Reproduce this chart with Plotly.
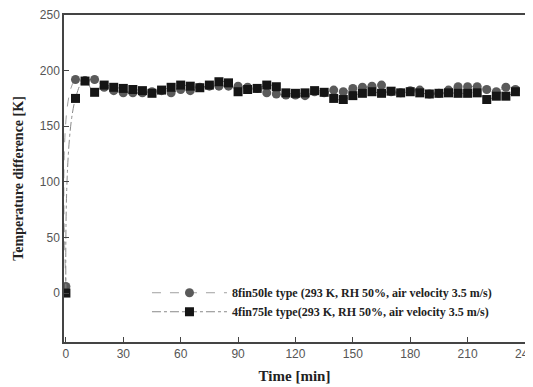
import plotly.graph_objects as go

time_min = [0, 5, 10, 15, 20, 25, 30, 35, 40, 45, 50, 55, 60, 65, 70, 75, 80, 85, 90, 95,
            100, 105, 110, 115, 120, 125, 130, 135, 140, 145, 150, 155, 160, 165, 170, 175,
            180, 185, 190, 195, 200, 205, 210, 215, 220, 225, 230, 235]

fin8_50le = [6, 192, 191, 192, 185, 182, 180, 180, 180, 181, 182, 180, 183, 182, 185, 186, 186, 186,
             186, 185, 184, 180, 179, 178, 178, 177.5, 181, 180, 182.5, 181, 184, 185, 186, 187,
             181, 180, 182, 182.5, 179, 179.6, 182.5, 185.5, 185.5, 185.5, 183, 181, 185, 183]

fin4_75le = [0, 175, 190.6, 180.5, 187, 185, 184, 183, 182, 179.6, 182.5, 185, 187, 186, 184.6, 187,
             190, 189, 181, 183, 184, 187, 185.5, 180, 179.6, 180, 182, 180.5, 175, 174, 177.5,
             179.6, 181, 179.6, 181.5, 180, 181, 180, 179, 179.6, 180, 179.6, 179.6, 180, 174,
             177, 177, 181]

x_ticks = [0, 30, 60, 90, 120, 150, 180, 210, 240]
y_ticks = [0, 50, 100, 150, 200, 250]

label1 = "8fin50le type (293 K, RH 50%, air velocity 3.5 m/s)"
label2 = "4fin75le type(293 K, RH 50%, air velocity 3.5 m/s)"

fig = go.Figure()
fig.add_trace(go.Scatter(
    x=time_min, y=fin8_50le, name=label1, mode="lines+markers",
    line=dict(color="#a0a0a0", width=1, dash="dash", shape="spline", smoothing=1.3),
    marker=dict(symbol="circle", size=9, color="#5a5a5a"),
))
fig.add_trace(go.Scatter(
    x=time_min, y=fin4_75le, name=label2, mode="lines+markers",
    line=dict(color="#8a8a8a", width=1, dash="dashdot", shape="spline", smoothing=1.3),
    marker=dict(symbol="square", size=9, color="#151515"),
))

# page body has an 8px margin, so the figure is sized to fill the rest of the window
fig.update_layout(
    width=525, height=379,
    margin=dict(l=56, r=8, t=7, b=45),
    paper_bgcolor="white", plot_bgcolor="white",
    showlegend=True,
    legend=dict(x=0.18, y=0.195, xanchor="left", yanchor="top",
                bgcolor="rgba(0,0,0,0)", itemwidth=75, tracegroupgap=0,
                font=dict(family="Liberation Serif", size=12, color="#222", weight="bold"),
                itemsizing="trace"),
    font=dict(family="Liberation Sans", color="#555"),
)
fig.update_xaxes(
    range=[-1, 240], tickvals=x_ticks, ticks="inside", ticklen=5, tickcolor="#444",
    showline=True, linecolor="#444", linewidth=1.5, mirror=True, showgrid=False, zeroline=False,
    automargin=False, ticklabeloverflow="allow",
    tickfont=dict(family="Liberation Sans", size=12, color="#555"),
    title=dict(text="<b>Time [min]</b>", font=dict(family="Liberation Serif", size=15, color="#222"), standoff=10),
)
fig.update_yaxes(
    range=[-44, 250], tickvals=y_ticks, ticks="inside", ticklen=5, tickcolor="#444",
    showline=True, linecolor="#444", linewidth=1.5, mirror=True, showgrid=False, zeroline=False,
    automargin=False,
    tickfont=dict(family="Liberation Sans", size=12, color="#555"),
    title=dict(text="<b>Temperature difference [K]</b>", font=dict(family="Liberation Serif", size=14, color="#222"), standoff=13),
)

fig.write_html("out.html")
